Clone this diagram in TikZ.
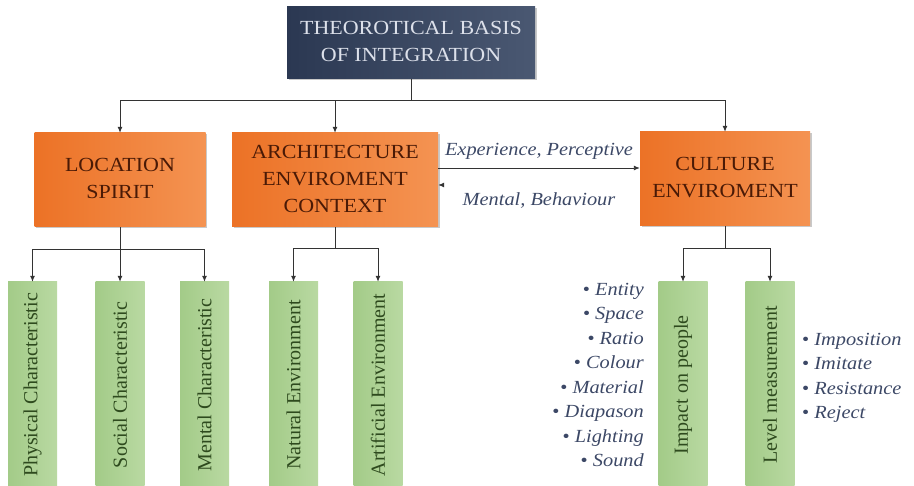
\documentclass[tikz,border=0pt]{standalone}
\usepackage{fontspec}
\usepackage{graphicx}
\setmainfont{Liberation Serif}
\usetikzlibrary{arrows.meta,shadows}

\definecolor{navyA}{HTML}{2B3852}
\definecolor{navyB}{HTML}{4A5872}
\definecolor{navyText}{HTML}{DCE0EA}
\definecolor{orangeA}{HTML}{EC7226}
\definecolor{orangeB}{HTML}{F49352}
\definecolor{brownText}{HTML}{4A1A06}
\definecolor{greenA}{HTML}{A3CB88}
\definecolor{greenB}{HTML}{B9D9A2}
\definecolor{greenText}{HTML}{2E4A1E}
\definecolor{slateText}{HTML}{3C4866}
\definecolor{lineGray}{HTML}{333333}

% horizontally widened text blocks
\newcommand{\widec}[1]{\scalebox{1.1}[1]{\begin{tabular}{@{}c@{}}#1\end{tabular}}}
\newcommand{\wider}[1]{\scalebox{1.1}[1]{\begin{tabular}{@{}r@{}}#1\end{tabular}}}
\newcommand{\widel}[1]{\scalebox{1.1}[1]{\begin{tabular}{@{}l@{}}#1\end{tabular}}}
\newcommand{\bul}{{\upshape•}~}

\tikzset{
  boxshadow/.style={drop shadow={shadow xshift=1.5pt, shadow yshift=-1.5pt, opacity=0.3, fill=black!70}},
  rootbox/.style={boxshadow, left color=navyA, right color=navyB, draw=none,
    minimum width=248pt, minimum height=72pt, inner sep=0pt, text=navyText,
    font=\fontsize{20}{27}\selectfont},
  topicbox/.style={boxshadow, left color=orangeA, right color=orangeB, draw=none,
    minimum width=#1, minimum height=94pt, inner sep=0pt, text=brownText,
    font=\fontsize{20}{27}\selectfont},
  leafbox/.style={left color=greenA, right color=greenB, draw=none,
    minimum width=206pt, minimum height=49pt, rotate=90, text=greenText,
    font=\fontsize{20}{24}\selectfont},
  linklabel/.style={text=slateText, inner sep=0pt, font=\itshape\fontsize{18.5}{24.5}\selectfont},
  wire/.style={draw=lineGray, line width=0.9pt},
  feed/.style={wire, -{Latex[length=6pt,width=5pt]}},
}

\begin{document}
\begin{tikzpicture}[x=1pt, y=-1pt]
  \useasboundingbox (0,0) rectangle (914,486);

  % root and topic boxes
  \node[rootbox] (root) at (411,43) {\widec{THEOROTICAL BASIS\\OF INTEGRATION}};
  \node[topicbox=171pt] (loc) at (120,180) {\widec{LOCATION\\SPIRIT}};
  \node[topicbox=206pt] (arch) at (335,180) {\widec{ARCHITECTURE\\ENVIROMENT\\CONTEXT}};
  \node[topicbox=170pt] (cult) at (725,179) {\widec{CULTURE\\ENVIROMENT}};

  % leaf boxes (rotated text)
  \node[leafbox] (phys) at (32.5,385) {Physical Characteristic};
  \node[leafbox] (soc)  at (120,385)  {Social Characteristic};
  \node[leafbox] (ment) at (204.5,385) {Mental Characteristic};
  \node[leafbox] (nat)  at (293.5,385) {Natural Environment};
  \node[leafbox] (art)  at (378,385)  {Artificial Environment};
  \node[leafbox] (imp)  at (683,385)  {Impact on people};
  \node[leafbox] (lev)  at (770,385)  {Level measurement};

  % bus points of the tree
  \coordinate (rootbus) at (411,100);
  \coordinate (locbus)  at (120,249);
  \coordinate (archbus) at (335,248);
  \coordinate (cultbus) at (725,248);

  % root to topics
  \draw[wire] (root.south) -- (rootbus);
  \draw[feed] (rootbus) -| (loc.north);
  \draw[feed] (rootbus) -| (arch.north);
  \draw[feed] (rootbus) -| (cult.north);

  % topics to leaves
  \draw[wire] (loc.south) -- (locbus);
  \draw[feed] (locbus) -| (phys.east);
  \draw[feed] (locbus) -- (soc.east);
  \draw[feed] (locbus) -| (ment.east);

  \draw[wire] (arch.south) -- (archbus);
  \draw[feed] (archbus) -| (nat.east);
  \draw[feed] (archbus) -| (art.east);

  \draw[wire] (cult.south) -- (cultbus);
  \draw[feed] (cultbus) -| (imp.east);
  \draw[feed] (cultbus) -| (lev.east);

  % links between architecture and culture
  \draw[feed] ([yshift=12pt]arch.east) -- ([yshift=11pt]cult.west)
    node[linklabel, midway, above=5pt] (exper) {\widec{Experience, Perceptive}};
  \draw[draw=white, line width=0.9pt, -{Latex[length=6pt,width=5pt,color=lineGray]}]
    ([yshift=-5pt]cult.west) -- ([yshift=-5pt]arch.east)
    node[linklabel, pos=0.5, below=3pt] (mentbeh) {\widec{Mental, Behaviour}};

  % bullet lists
  \node[linklabel, anchor=east] (impitems) at (644,376)
    {\wider{\bul Entity\\\bul Space\\\bul Ratio\\\bul Colour\\\bul Material\\\bul Diapason\\\bul Lighting\\\bul Sound}};
  \node[linklabel, anchor=west] (levitems) at (802,377)
    {\widel{\bul Imposition\\\bul Imitate\\\bul Resistance\\\bul Reject}};
\end{tikzpicture}
\end{document}
